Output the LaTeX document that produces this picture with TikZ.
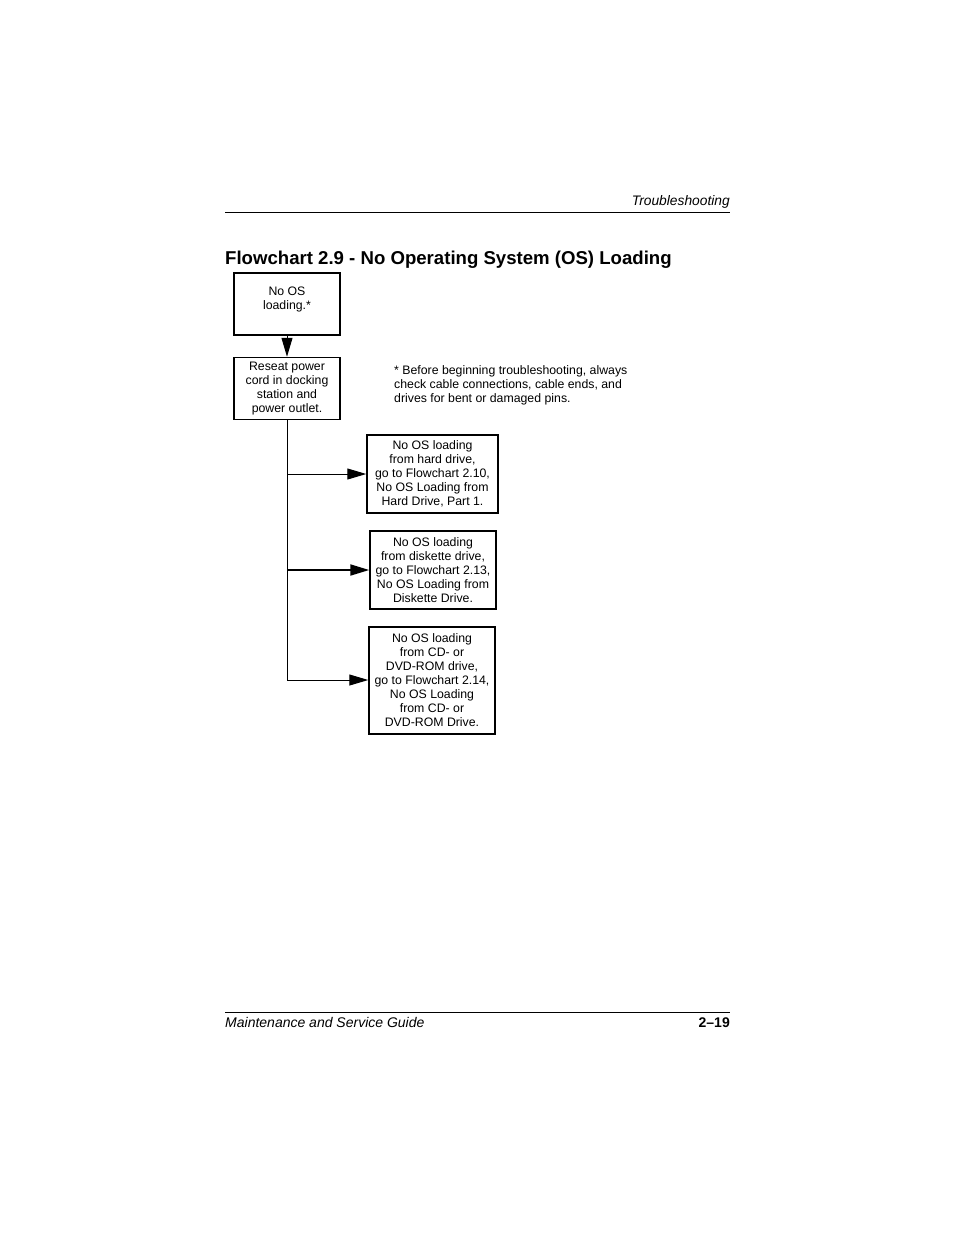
\documentclass[tikz,border=0pt]{standalone}
\usepackage{fontspec}
\setmainfont{Liberation Sans}
\usetikzlibrary{arrows.meta}
\begin{document}
\begin{tikzpicture}[x=1pt,y=-1pt]
\tikzset{
  box/.style={draw, line width=1.5pt, align=center, inner sep=0pt, font=\fontsize{12.3}{14}\selectfont},
  conn/.style={line width=1pt, -{Triangle[length=19pt,width=11pt]}},
  rule/.style={line width=1pt},
  hdr/.style={inner sep=0pt, font=\fontsize{13.8}{16}\selectfont\itshape},
}
\useasboundingbox[fill=white] (0,0) rectangle (954,1235);
% header
\draw[rule] (225,212) -- (730,212);
\node[hdr, anchor=base east] (hd) at (730,205) {Troubleshooting};
\node[inner sep=0pt, anchor=base west, font=\fontsize{18.6}{20}\selectfont\bfseries] (title) at (225,264) {Flowchart 2.9 - No Operating System (OS) Loading};
% boxes
\node[box, minimum width=106pt, minimum height=62pt, text depth=11pt] (b1) at (287,304) {No OS\\loading.*};
\node[box, minimum width=106pt, minimum height=62pt] (b2) at (287,388.5) {Reseat power\\cord in docking\\station and\\power outlet.};
\node[box, minimum width=131pt, minimum height=78pt] (b3) at (432.5,474) {No OS loading\\from hard drive,\\go to Flowchart 2.10,\\No OS Loading from\\Hard Drive, Part 1.};
\node[box, minimum width=126pt, minimum height=78pt] (b4) at (433,570) {No OS loading\\from diskette drive,\\go to Flowchart 2.13,\\No OS Loading from\\Diskette Drive.};
\node[box, minimum width=126pt, minimum height=107pt] (b5) at (432,680.5) {No OS loading\\from CD- or\\DVD-ROM drive,\\go to Flowchart 2.14,\\No OS Loading\\from CD- or\\DVD-ROM Drive.};
% note
\node[inner sep=0pt, anchor=north west, align=left, font=\fontsize{12.3}{14}\selectfont] (note) at (394,365) {* Before beginning troubleshooting, always\\check cable connections, cable ends, and\\drives for bent or damaged pins.};
% connectors
\coordinate (j1) at (287,474);
\coordinate (j2) at (287,570);
\coordinate (j3) at (287,680);
\draw[conn] (b1.south) -- (b2.north);
\draw[rule] (b2.south) -- (j3);
\draw[conn] (j1) -- (j1 -| b3.west);
\draw[conn, line width=2pt] (j2) -- (j2 -| b4.west);
\draw[conn] (j3) -- (j3 -| b5.west);
% footer
\draw[rule] (225,1012) -- (730,1012);
\node[hdr, anchor=base west, font=\fontsize{14}{16}\selectfont\itshape] (ft) at (225,1027) {Maintenance and Service Guide};
\node[inner sep=0pt, anchor=base east, font=\fontsize{14}{16}\selectfont\bfseries] (pg) at (730,1027) {2--19};
\end{tikzpicture}
\end{document}
